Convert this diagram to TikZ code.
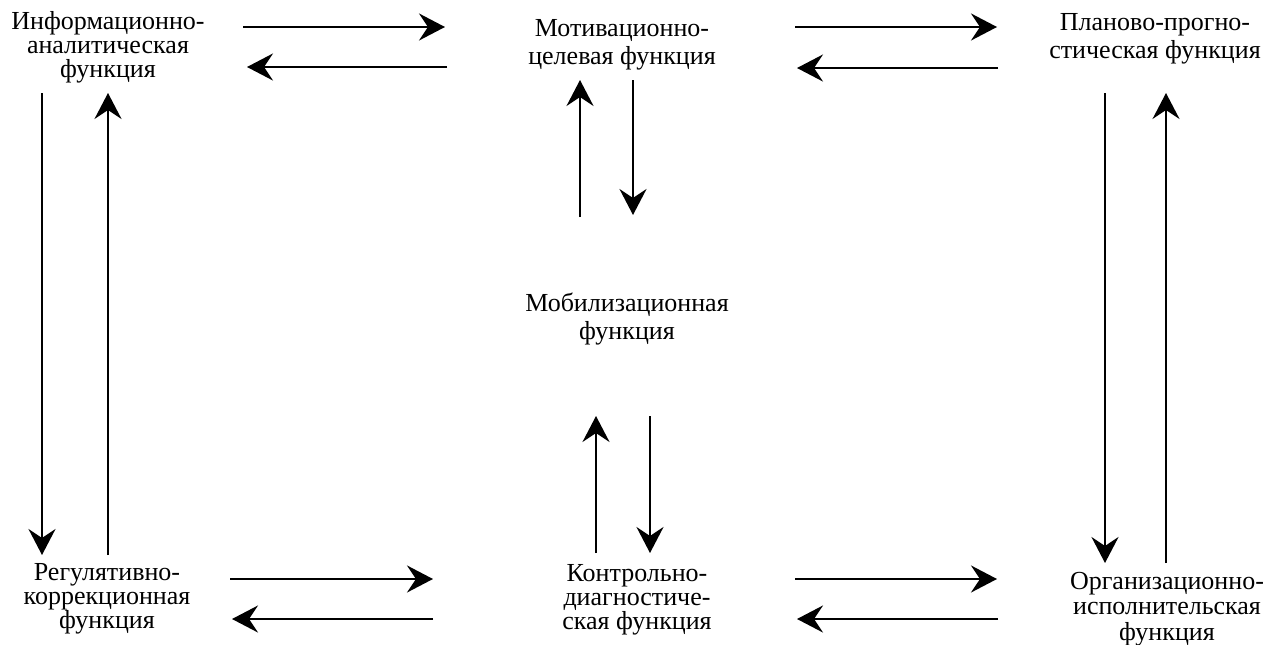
\documentclass[tikz,border=0pt]{standalone}
\usepackage{fontspec}
\setmainfont{Liberation Serif}
\usetikzlibrary{arrows.meta}
\tikzset{
  lbl/.style={inner sep=0pt, align=center, font=\fontsize{26}{#1}\selectfont},
  arr/.style={line width=2.7pt, -{Stealth[length=26pt, width=27pt, inset=9pt]}}
}
\begin{document}
\begin{tikzpicture}[x=1pt, y=-1pt]
\useasboundingbox (0,0) rectangle (1274,645);
% text nodes
\node[lbl=24] (info) at (108,47) {Информационно-\\аналитическая\\функция};
\node[lbl=28] (motiv) at (622,45) {Мотивационно-\\целевая функция};
\node[lbl=28] (plan) at (1155,39) {Планово-прогно-\\стическая функция};
\node[lbl=28] (mobil) at (627,319) {Мобилизационная\\функция};
\node[lbl=24] (regul) at (107,599) {Регулятивно-\\коррекционная\\функция};
\node[lbl=24] (kontr) at (637,600) {Контрольно-\\диагностиче-\\ская функция};
\node[lbl=25.5] (org) at (1167,609) {Организационно-\\исполнительская\\функция};
% arrow endpoints
\coordinate (a1s) at (243,27);  \coordinate (a1e) at (445,27);
\coordinate (a2s) at (447,67);  \coordinate (a2e) at (247,67);
\coordinate (a3s) at (795,27);  \coordinate (a3e) at (997,27);
\coordinate (a4s) at (998,68);  \coordinate (a4e) at (797,68);
\coordinate (b1s) at (230,579); \coordinate (b1e) at (433,579);
\coordinate (b2s) at (433,619); \coordinate (b2e) at (232,619);
\coordinate (b3s) at (795,579); \coordinate (b3e) at (997,579);
\coordinate (b4s) at (998,619); \coordinate (b4e) at (797,619);
\coordinate (l1s) at (42,93);   \coordinate (l1e) at (42,555);
\coordinate (l2s) at (108,555); \coordinate (l2e) at (108,93);
\coordinate (r1s) at (1105,93); \coordinate (r1e) at (1105,563);
\coordinate (r2s) at (1166,563);\coordinate (r2e) at (1166,93);
\coordinate (m1s) at (580,217); \coordinate (m1e) at (580,80);
\coordinate (m2s) at (633,80);  \coordinate (m2e) at (633,215);
\coordinate (n1s) at (596,553); \coordinate (n1e) at (596,416);
\coordinate (n2s) at (650,416); \coordinate (n2e) at (650,553);
% arrows
\foreach \p in {a1,a2,a3,a4,b1,b2,b3,b4,l1,l2,r1,r2,m1,m2,n1,n2}
  \draw[arr] (\p s) -- (\p e);
\end{tikzpicture}
\end{document}
